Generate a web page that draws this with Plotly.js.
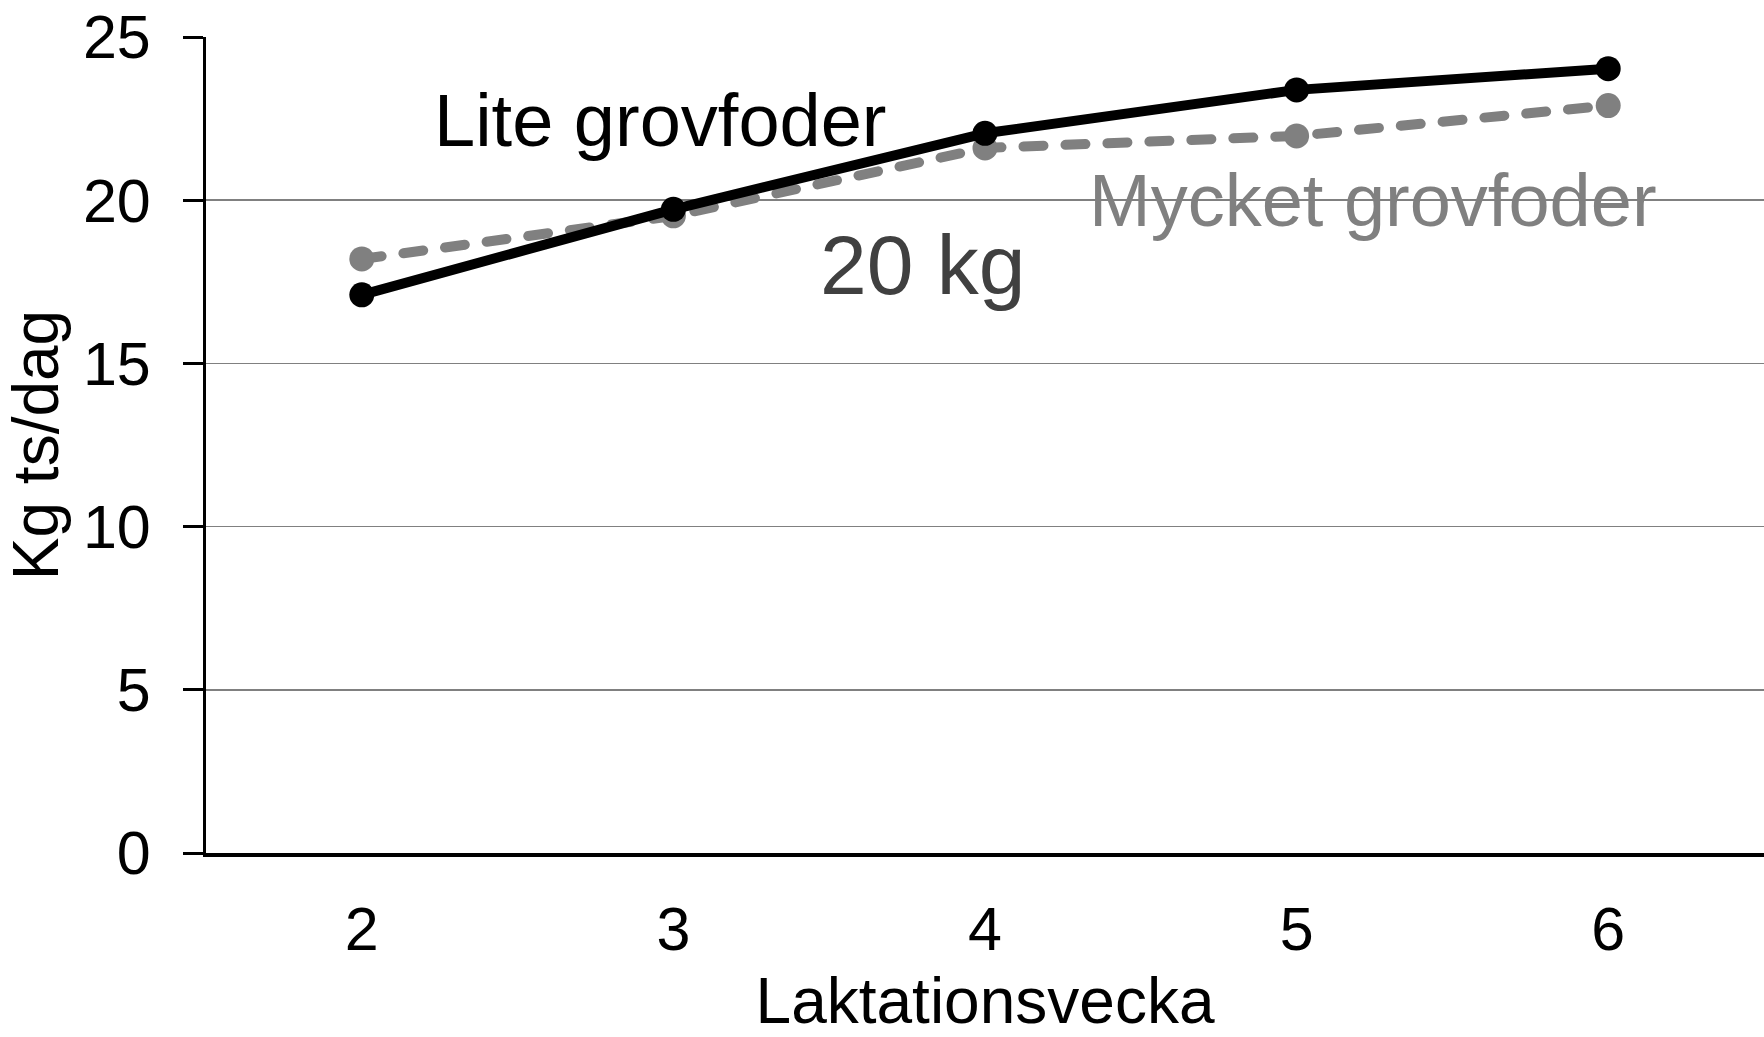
<!DOCTYPE html>
<html>
<head>
<meta charset="utf-8">
<script src="https://cdn.plot.ly/plotly-3.0.1.min.js"></script>
<style>
html,body{margin:0;padding:0;background:#fff;}
#chart{width:1764px;height:1037px;}
.scatterlayer .js-line{stroke-linecap:round;stroke-linejoin:round;}
</style>
</head>
<body>
<div id="chart"></div>
<script>
const weeks = [2, 3, 4, 5, 6];
const liteGrovfoder = [17.1, 19.72, 22.05, 23.38, 24.03];
const myckGrovfoder = [18.2, 19.52, 21.6, 21.97, 22.9];
const yTicks = [0, 5, 10, 15, 20, 25];

const FONT = "Liberation Sans, Arial, sans-serif";

const traces = [
  {
    x: weeks, y: myckGrovfoder, type: 'scatter', mode: 'lines+markers',
    name: 'Mycket grovfoder',
    line: {color: '#808080', width: 10, dash: '20px,22px'},
    marker: {color: '#808080', size: 25}
  },
  {
    x: weeks, y: liteGrovfoder, type: 'scatter', mode: 'lines+markers',
    name: 'Lite grovfoder',
    line: {color: '#000000', width: 10},
    marker: {color: '#000000', size: 25}
  }
];

const layout = {
  width: 1764, height: 1037,
  margin: {l: 206, r: 0, t: 37, b: 184, pad: 0},
  paper_bgcolor: '#ffffff', plot_bgcolor: '#ffffff',
  showlegend: false,
  font: {family: FONT, color: '#000000', size: 60},
  xaxis: {
    range: [1.5, 6.5],
    tickvals: weeks, ticktext: weeks.map(String),
    ticks: '', showgrid: false, zeroline: false,
    showline: true, linecolor: '#000000', linewidth: 4,
    tickfont: {family: FONT, size: 61, color: '#000000'},
    ticklabelstandoff: 20,
    title: {text: 'Laktationsvecka', font: {family: FONT, size: 64, color: '#000000'}, standoff: 50},
    automargin: false, fixedrange: true
  },
  yaxis: {
    range: [0, 25],
    tickvals: yTicks, ticktext: yTicks.map(String),
    ticks: 'outside', ticklen: 20, tickwidth: 3, tickcolor: '#000000',
    showgrid: true, gridcolor: '#808080', gridwidth: 1.5,
    zeroline: false,
    showline: true, linecolor: '#000000', linewidth: 3,
    tickfont: {family: FONT, size: 61, color: '#000000'},
    ticklabelstandoff: 20,
    title: {text: 'Kg ts/dag', font: {family: FONT, size: 64, color: '#000000'}, standoff: 8},
    automargin: false, fixedrange: true
  },
  annotations: [
    {x: 2.96, y: 22.45, xref: 'x', yref: 'y', text: 'Lite grovfoder', showarrow: false,
     font: {family: FONT, size: 74, color: '#000000'}, xanchor: 'center', yanchor: 'middle'},
    {x: 5.245, y: 20.0, xref: 'x', yref: 'y', text: 'Mycket grovfoder', showarrow: false,
     font: {family: FONT, size: 74, color: '#808080'}, xanchor: 'center', yanchor: 'middle'},
    {x: 3.8, y: 18.0, xref: 'x', yref: 'y', text: '20 kg', showarrow: false,
     font: {family: FONT, size: 84, color: '#404040'}, xanchor: 'center', yanchor: 'middle'}
  ]
};

Plotly.newPlot('chart', traces, layout, {displayModeBar: false, staticPlot: true});
</script>
</body>
</html>
